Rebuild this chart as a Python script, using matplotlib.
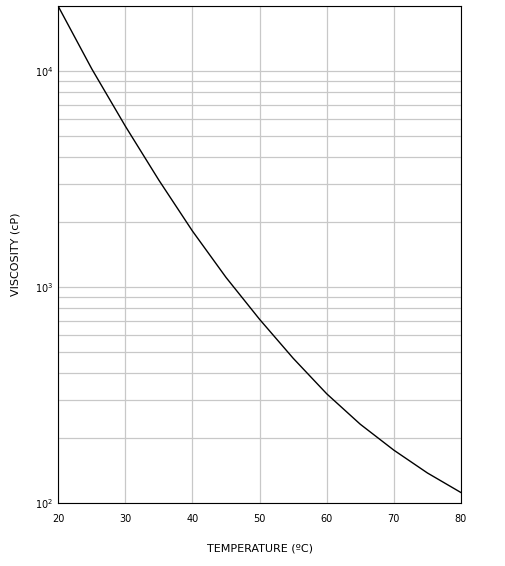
import matplotlib
matplotlib.use("Agg")
import matplotlib.pyplot as plt
from matplotlib.ticker import LogLocator, NullFormatter

# Values
temperature = [20, 25, 30, 35, 40, 45, 50, 55, 60, 65, 70, 75, 80]
viscosity = [20000, 10260, 5570, 3130, 1820, 1110, 710, 469, 321, 232, 176, 138, 112]
x_ticks = [20, 30, 40, 50, 60, 70, 80]

fig = plt.figure(figsize=(5.06, 5.66), dpi=100)
ax = fig.add_axes([0.115, 0.111, 0.796, 0.878])

ax.plot(temperature, viscosity, color="black", lw=1)
ax.set_yscale("log")
ax.set_xlim(20, 80)
ax.set_ylim(100, 20000)
ax.set_xticks(x_ticks)
ax.yaxis.set_major_locator(LogLocator(base=10))
ax.yaxis.set_minor_locator(LogLocator(base=10, subs=range(2, 10)))
ax.yaxis.set_minor_formatter(NullFormatter())
ax.grid(which="both", color="#c8c8c8", lw=0.9)
ax.tick_params(which="both", length=0, labelsize=7)
ax.tick_params(axis="x", pad=8)
for s in ax.spines.values():
    s.set_color("black")
    s.set_linewidth(0.8)

ax.set_xlabel("TEMPERATURE (ºC)", fontsize=8, labelpad=14)
ax.set_ylabel("VISCOSITY (cP)", fontsize=8, labelpad=10)

fig.savefig("out.png", dpi=100)
